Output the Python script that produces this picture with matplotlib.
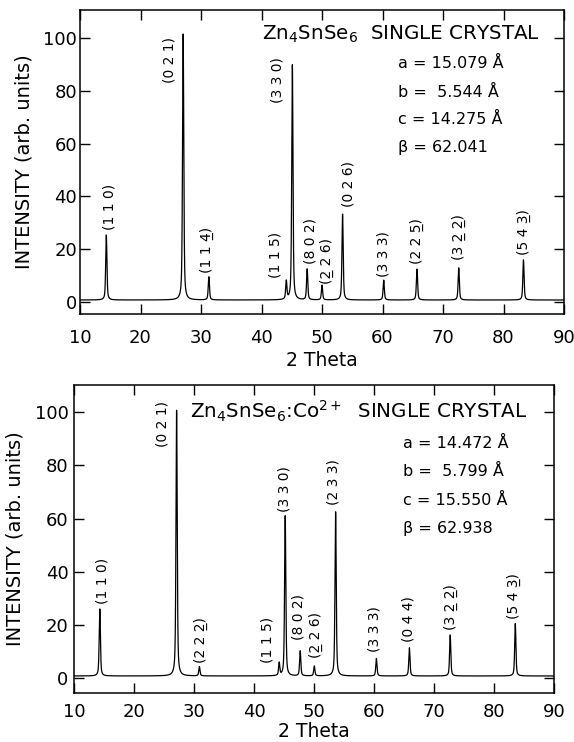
import numpy as np
import matplotlib
matplotlib.use("Agg")
import matplotlib.pyplot as plt

U = "\u0332"  # combining low line (negative index)

# Zn4SnSe6 single crystal
pure_pos = [14.35, 27.05, 31.3, 44.1, 45.1, 47.55, 50.0, 53.4, 60.2, 65.7, 72.6, 83.3]
pure_int = [25.4, 101.5, 9.6, 7.7, 89.8, 12.5, 6.4, 33.3, 8.3, 12.5, 13.0, 16.0]
pure_hkl = ["(1 1 0)", "(0 2 1)", "(1 1 4" + U + ")", "(1 1 5)", "(3 3 0)", "(8 0 2)",
            "(2" + U + " 2 6)", "(0 2 6)", "(3 3 3)", "(2 2 5" + U + ")",
            "(3 2" + U + " 2" + U + ")", "(5 4 3" + U + ")"]
pure_lab_x = [14.8, 24.8, 31.0, 42.3, 42.6, 48.1, 50.8, 54.3, 60.2, 65.75, 72.7, 83.3]
pure_lab_y = [27.3, 82.8, 11.0, 9.0, 75.3, 14.6, 7.0, 36.0, 9.6, 14.6, 16.0, 17.8]
pure_title = r"Zn$_4$SnSe$_6$  SINGLE CRYSTAL"
pure_cell = ["a = 15.079 Å", "b =  5.544 Å", "c = 14.275 Å", "β = 62.041"]

# Zn4SnSe6:Co2+ single crystal
co_pos = [14.3, 27.1, 30.9, 44.2, 45.2, 47.7, 50.05, 53.6, 60.4, 65.9, 72.7, 83.55]
co_int = [26.0, 100.7, 4.3, 5.6, 61.0, 10.2, 4.5, 62.5, 7.4, 11.4, 16.2, 20.5]
co_hkl = ["(1 1 0)", "(0 2 1)", "(2 2 2" + U + ")", "(1 1 5)", "(3 3 0)", "(8 0 2)",
          "(2" + U + " 2 6)", "(2 3 3)", "(3 3 3)", "(0 4 4)",
          "(3 2" + U + " 2" + U + ")", "(5 4 3" + U + ")"]
co_lab_x = [14.75, 24.75, 31.1, 42.25, 45.0, 47.5, 50.3, 53.3, 60.0, 65.8, 72.8, 83.3]
co_lab_y = [28.0, 87.0, 5.5, 5.5, 62.5, 14.3, 7.4, 65.0, 9.9, 13.7, 18.0, 22.4]
co_title = r"Zn$_4$SnSe$_6$:Co$^{2+}$  SINGLE CRYSTAL"
co_cell = ["a = 14.472 Å", "b =  5.799 Å", "c = 15.550 Å", "β = 62.938"]

baseline = 0.8
hwhm = 0.12
eta = 0.55  # lorentzian fraction of the pseudo-voigt profile


def pattern(x, pos, inten):
    y = np.full_like(x, baseline)
    for p, h in zip(pos, inten):
        d = x - p
        lor = hwhm**2 / (d**2 + hwhm**2)
        gau = np.exp(-np.log(2) * (d / hwhm)**2)
        y += (h - baseline) * (eta * lor + (1 - eta) * gau)
    return y


fig = plt.figure(figsize=(5.74, 7.42), dpi=100)
ax1 = fig.add_axes([80 / 574, 1 - 314 / 742, 484 / 574, 304 / 742])
ax2 = fig.add_axes([74 / 574, 1 - 693 / 742, 480 / 574, 308 / 742])

tth = np.arange(10, 90.001, 0.005)
panels = (
    (ax1, pure_pos, pure_int, pure_hkl, pure_lab_x, pure_lab_y, pure_title, pure_cell,
     (-4.5, 110.6), (40.0, 101.5), (62.5, [90.5, 79.5, 69.3, 58.7]), 11, 2, 3),
    (ax2, co_pos, co_int, co_hkl, co_lab_x, co_lab_y, co_title, co_cell,
     (-5.6, 110.2), (29.4, 100.2), (64.9, [88.2, 77.6, 66.9, 56.3]), 7, 4, 1),
)

for (ax, pos, inten, hkl, lx, ly, title, cell, ylim, tpos, cpos, xpad, ypad, lpad) in panels:
    ax.plot(tth, pattern(tth, pos, inten), color="black", lw=0.9)
    for t, x, y in zip(hkl, lx, ly):
        ax.text(x, y, t, rotation=90, ha="center", va="bottom", fontsize=10)
    ax.text(tpos[0], tpos[1], title, ha="left", va="center", fontsize=14.3)
    for c, y in zip(cell, cpos[1]):
        ax.text(cpos[0], y, c, ha="left", va="center", fontsize=11.5)

    ax.set_xlim(10, 90)
    ax.set_ylim(*ylim)
    ax.set_xticks(range(10, 91, 10))
    ax.set_yticks(range(0, 101, 20))
    ax.tick_params(direction="in", top=True, right=True, length=7, width=1.0,
                   labelsize=13)
    ax.tick_params(axis="x", pad=xpad)
    ax.tick_params(axis="y", pad=ypad)
    for s in ax.spines.values():
        s.set_linewidth(1.1)
    ax.set_xlabel("2 Theta", fontsize=13.5, labelpad=lpad)
    ax.set_ylabel("INTENSITY (arb. units)", fontsize=14, labelpad=7)

fig.savefig("out.png", dpi=100)
plt.close(fig)
